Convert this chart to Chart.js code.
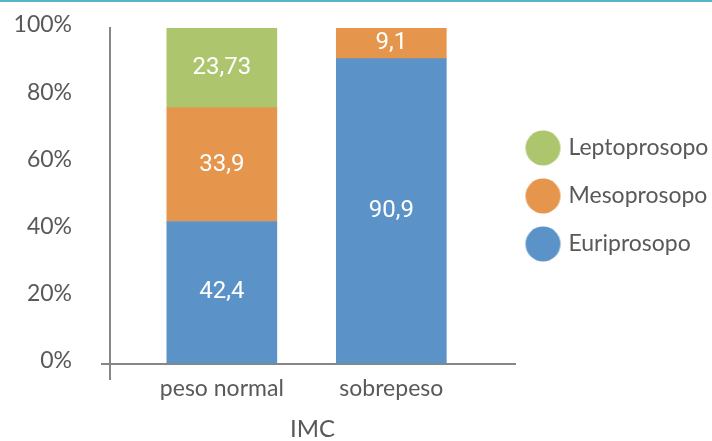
<!DOCTYPE html>
<html>
<head>
<meta charset="UTF-8">
<title>IMC</title>
<script src="https://cdn.jsdelivr.net/npm/chart.js@4.4.0/dist/chart.umd.min.js"></script>
<style>
    html, body { margin: 0; padding: 0; background: #fff; }
    #wrap { position: relative; width: 712px; height: 441px; }
    #topline { position: absolute; left: 0; top: 0; width: 712px; height: 2px; background: #5ab4c8; }
</style>
</head>
<body>
<div id="wrap">
    <canvas id="myChart" width="712" height="441"></canvas>
    <div id="topline"></div>
</div>
<script>
    // data
    var categories = ['peso normal', 'sobrepeso'];
    var euriprosopo = [42.4, 90.9];
    var mesoprosopo = [33.9, 9.1];
    var leptoprosopo = [23.73, 0];
    var yTicks = [0, 20, 40, 60, 80, 100];

    var grey = '#595959';
    var axisGrey = '#868686';

    function points(values) {
        return values.map(function (v, i) { return {x: i + 1, y: v}; });
    }

    // legend dot, drawn a little left of the box centre
    function dot(color) {
        var c = document.createElement('canvas');
        c.width = 48; c.height = 36;
        var g = c.getContext('2d');
        g.fillStyle = color;
        g.beginPath();
        g.arc(18.5, 18, 17.5, 0, Math.PI * 2);
        g.fill();
        return c;
    }

    var barLabels = {
        id: 'barLabels',
        afterDatasetsDraw: function (chart) {
            var ctx = chart.ctx;
            ctx.save();
            ctx.fillStyle = '#fff';
            ctx.font = '24px Roboto';
            ctx.textAlign = 'center';
            ctx.textBaseline = 'middle';
            chart.data.datasets.forEach(function (ds, i) {
                chart.getDatasetMeta(i).data.forEach(function (bar, j) {
                    var v = ds.data[j].y;
                    if (!v) return;
                    var p = bar.getCenterPoint();
                    ctx.fillText(String(v).replace('.', ','), p.x, p.y);
                });
            });
            ctx.restore();
        }
    };

    var ctx = document.getElementById('myChart').getContext('2d');
    var myChart = new Chart(ctx, {
        type: 'bar',
        data: {
            datasets: [
                {label: 'Euriprosopo', data: points(euriprosopo), backgroundColor: '#5b93c9'},
                {label: 'Mesoprosopo', data: points(mesoprosopo), backgroundColor: '#e5964c'},
                {label: 'Leptoprosopo', data: points(leptoprosopo), backgroundColor: '#adc66d'}
            ]
        },
        options: {
            responsive: false,
            animation: false,
            barThickness: 110,
            layout: {padding: {top: 28, right: 0, left: 0, bottom: 0}},
            scales: {
                x: {
                    type: 'linear',
                    stacked: true,
                    offset: false,
                    min: 0.34,
                    max: 2.73,
                    afterBuildTicks: function (s) {
                        s.ticks = [{value: s.min}].concat(categories.map(function (c, i) { return {value: i + 1}; }));
                    },
                    afterFit: function (s) { s.height = 77; },
                    ticks: {
                        callback: function (v) { return categories[v - 1] || ''; },
                        color: grey,
                        font: {family: 'Lato', size: 23},
                        padding: -5,
                        maxRotation: 0,
                        autoSkip: false
                    },
                    grid: {
                        offset: false,
                        drawOnChartArea: false,
                        tickLength: 16,
                        lineWidth: 2,
                        color: function (c) { return c.index === 0 ? axisGrey : 'rgba(0,0,0,0)'; }
                    },
                    border: {color: axisGrey, width: 2},
                    title: {
                        display: true,
                        text: 'IMC',
                        color: grey,
                        font: {family: 'Lato', size: 24, lineHeight: 1},
                        padding: {top: 0, bottom: 0}
                    }
                },
                y: {
                    stacked: true,
                    min: 0,
                    max: 100,
                    afterBuildTicks: function (s) {
                        s.ticks = yTicks.map(function (v) { return {value: v}; });
                    },
                    afterFit: function (s) {
                        s.width = 110;
                        s.paddingTop = 14;
                        s.paddingBottom = 14;
                    },
                    ticks: {
                        callback: function (v) { return v + '%'; },
                        color: grey,
                        font: {family: 'Lato', size: 23},
                        padding: 29,
                        labelOffset: -3
                    },
                    grid: {
                        drawOnChartArea: false,
                        tickLength: 9,
                        lineWidth: 2,
                        color: function (c) { return c.tick && c.tick.value === 0 ? axisGrey : 'rgba(0,0,0,0)'; }
                    },
                    border: {color: axisGrey, width: 2}
                }
            },
            plugins: {
                tooltip: {enabled: false},
                legend: {
                    position: 'right',
                    fullSize: false,
                    reverse: true,
                    maxWidth: 197,
                    labels: {
                        usePointStyle: true,
                        pointStyleWidth: 17,
                        padding: 25,
                        color: grey,
                        font: {family: 'Lato', size: 23},
                        generateLabels: function (chart) {
                            var items = Chart.defaults.plugins.legend.labels.generateLabels(chart);
                            items.forEach(function (it) { it.pointStyle = dot(it.fillStyle); });
                            return items;
                        }
                    }
                }
            }
        },
        plugins: [barLabels]
    });
</script>
</body>
</html>
